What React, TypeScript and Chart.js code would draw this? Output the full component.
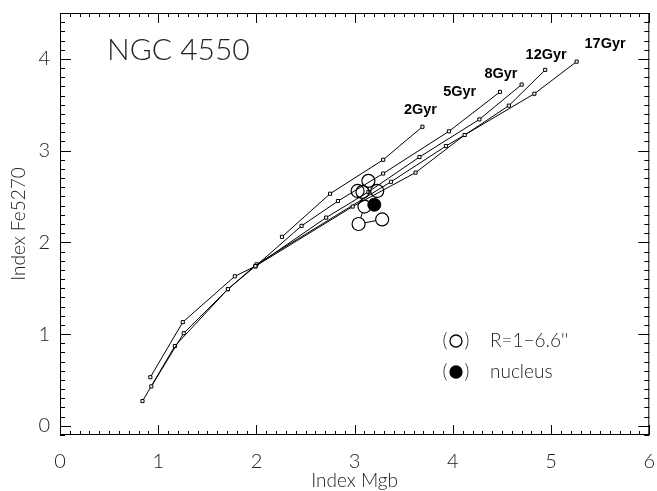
import React, { useEffect, useRef } from "react";
import { Chart, registerables } from "chart.js";

Chart.register(...registerables);

// ---- data ----
const ageLabels = ["2Gyr", "5Gyr", "8Gyr", "12Gyr", "17Gyr"];
const mgb2 = [2.26, 2.75, 3.29, 3.69];
const fe2 = [2.06, 2.53, 2.9, 3.26];
const mgb5 = [1.99, 2.46, 2.83, 3.29, 3.96, 4.48];
const fe5 = [1.74, 2.18, 2.45, 2.75, 3.21, 3.64];
const mgb8 = [0.92, 1.25, 1.78, 1.99, 2.71, 3.14, 3.66, 4.27, 4.7];
const fe8 = [0.53, 1.13, 1.63, 1.74, 2.27, 2.55, 2.93, 3.34, 3.72];
const mgb12 = [0.93, 1.26, 1.71, 1.99, 2.98, 3.62, 4.12, 4.57, 4.94];
const fe12 = [0.43, 1.01, 1.49, 1.74, 2.39, 2.76, 3.17, 3.49, 3.88];
const mgb17 = [0.84, 1.17, 1.71, 2.0, 3.37, 3.93, 4.83, 5.26];
const fe17 = [0.27, 0.87, 1.49, 1.76, 2.66, 3.05, 3.62, 3.97];
// age label anchor (data units)
const ageLabelX = [3.67, 4.07, 4.49, 4.95, 5.55];
const ageLabelY = [3.44, 3.64, 3.84, 4.04, 4.16];

// nucleus
const nucMgb = [3.2];
const nucFe = [2.41];
// observed radial profile (R = 1-6.6"), inner to outer
const obsMgb = [3.23, 3.14, 3.08, 3.03, 3.1, 3.04, 3.28];
const obsFe = [2.56, 2.67, 2.55, 2.56, 2.39, 2.2, 2.25];

const xTickLabels = ["0", "1", "2", "3", "4", "5", "6"];
const yTickLabels = ["0", "1", "2", "3", "4"];

const title = "NGC 4550";
const legendLabels = ["R=1\u22126.6''", "nucleus"];

const thinFont = "Lato, 'DejaVu Sans', sans-serif";

const pts = (xs: number[], ys: number[]) => xs.map((x, i) => ({ x, y: ys[i] }));

const framePlugin = {
  id: "frame",
  afterDatasetsDraw(chart: any) {
    const { ctx, chartArea: a, scales } = chart;
    const xs = scales.x;
    const ys = scales.y;
    ctx.save();
    ctx.strokeStyle = "#000";
    ctx.lineWidth = 1;
    ctx.strokeRect(a.left + 0.5, a.top + 0.5, a.right - a.left - 1, a.bottom - a.top - 1);
    ctx.beginPath();
    for (let i = 0; i <= 60; i++) {
      const v = i / 10;
      const px = Math.round(xs.getPixelForValue(v)) + 0.5;
      const len = i % 10 === 0 ? 10 : 4;
      ctx.moveTo(px, a.bottom);
      ctx.lineTo(px, a.bottom - len);
      ctx.moveTo(px, a.top);
      ctx.lineTo(px, a.top + len);
    }
    for (let i = -1; i <= 45; i++) {
      const v = i / 10;
      const py = Math.round(ys.getPixelForValue(v)) + 0.5;
      const len = i % 10 === 0 ? 11 : 5;
      ctx.moveTo(a.left, py);
      ctx.lineTo(a.left + len, py);
      ctx.moveTo(a.right, py);
      ctx.lineTo(a.right - len, py);
    }
    ctx.stroke();

    // title
    ctx.fillStyle = "#222";
    ctx.font = `300 30px ${thinFont}`;
    ctx.textBaseline = "middle";
    ctx.textAlign = "left";
    ctx.fillText(title, 107, 50);

    // age labels
    ctx.font = "bold 14.5px 'Liberation Sans', Arial, sans-serif";
    ctx.fillStyle = "#000";
    ctx.textAlign = "center";
    ageLabels.forEach((t, i) => {
      ctx.fillText(t, xs.getPixelForValue(ageLabelX[i]), ys.getPixelForValue(ageLabelY[i]));
    });

    // legend
    const lx = 456;
    const rows = [341, 372];
    ctx.font = `300 19px ${thinFont}`;
    ctx.fillStyle = "#222";
    rows.forEach((ry, i) => {
      ctx.textAlign = "center";
      ctx.fillText("(", lx - 11, ry);
      ctx.fillText(")", lx + 11, ry);
      ctx.beginPath();
      ctx.arc(lx, ry, 6, 0, Math.PI * 2);
      ctx.lineWidth = 1.3;
      ctx.strokeStyle = "#000";
      if (i === 1) {
        ctx.fillStyle = "#000";
        ctx.fill();
        ctx.fillStyle = "#222";
      }
      ctx.stroke();
      ctx.textAlign = "left";
      ctx.fillText(legendLabels[i], 490, ry);
    });
    ctx.restore();
  },
};

export default function App() {
  const ref = useRef<HTMLCanvasElement>(null);
  useEffect(() => {
    if (!ref.current) return;
    const modelStyle = {
      type: "line" as const,
      borderColor: "#000",
      borderWidth: 1,
      pointStyle: "rect" as const,
      pointRadius: 2.2,
      pointBorderWidth: 1,
      pointBorderColor: "#000",
      pointBackgroundColor: "#fff",
      showLine: true,
      fill: false,
    };
    const profile = [...pts(nucMgb, nucFe), ...pts(obsMgb, obsFe)];
    const chart = new Chart(ref.current, {
      type: "scatter",
      data: {
        datasets: [
          {
            label: "nucleus",
            data: pts(nucMgb, nucFe),
            pointRadius: 6.5,
            pointBackgroundColor: "#000",
            pointBorderColor: "#000",
            pointBorderWidth: 1,
          },
          {
            label: "R=1-6.6 outline",
            data: pts(obsMgb, obsFe),
            pointRadius: 6.5,
            pointBackgroundColor: "rgba(0,0,0,0)",
            pointBorderColor: "#000",
            pointBorderWidth: 1.2,
          },
          { ...modelStyle, label: ageLabels[0], data: pts(mgb2, fe2) },
          { ...modelStyle, label: ageLabels[1], data: pts(mgb5, fe5) },
          { ...modelStyle, label: ageLabels[2], data: pts(mgb8, fe8) },
          { ...modelStyle, label: ageLabels[3], data: pts(mgb12, fe12) },
          { ...modelStyle, label: ageLabels[4], data: pts(mgb17, fe17) },
          {
            label: "R=1-6.6 fill",
            data: pts(obsMgb, obsFe),
            pointRadius: 6.5,
            pointBackgroundColor: "#fff",
            pointBorderColor: "rgba(0,0,0,0)",
            pointBorderWidth: 0,
          },
          {
            label: "profile",
            type: "line",
            data: profile,
            showLine: true,
            borderColor: "#000",
            borderWidth: 1,
            pointRadius: 0,
            fill: false,
          },
        ] as any,
      },
      options: {
        animation: false,
        responsive: false,
        maintainAspectRatio: false,
        layout: { padding: { top: 13, right: 3, left: 0, bottom: 0 } },
        plugins: { legend: { display: false }, tooltip: { enabled: false } },
        scales: {
          x: {
            type: "linear",
            min: 0,
            max: 6,
            grid: { display: false, drawTicks: false },
            border: { display: false },
            ticks: {
              stepSize: 1,
              includeBounds: false,
              padding: 15,
              color: "#222",
              font: { family: thinFont, size: 20, weight: "300" as any },
              callback: (v: any) => xTickLabels[Math.round(Number(v))] ?? "",
              maxRotation: 0,
              autoSkip: false,
            },
            title: {
              display: true,
              text: "Index Mgb",
              color: "#222",
              font: { family: thinFont, size: 19, weight: "300" as any },
              padding: { top: 0, bottom: -1 },
            },
            afterFit: (s: any) => {
              s.height = 56;
              s.paddingLeft = 0;
              s.paddingRight = 0;
            },
          },
          y: {
            type: "linear",
            min: -0.1,
            max: 4.5,
            grid: { display: false, drawTicks: false },
            border: { display: false },
            ticks: {
              stepSize: 1,
              includeBounds: false,
              padding: 10,
              color: "#222",
              font: { family: thinFont, size: 20, weight: "300" as any },
              callback: (v: any) => yTickLabels[Math.round(Number(v))] ?? "",
              autoSkip: false,
            },
            title: {
              display: true,
              text: "Index Fe5270",
              color: "#222",
              font: { family: thinFont, size: 19, weight: "300" as any },
              padding: { top: 7, bottom: 0 },
            },
            afterFit: (s: any) => {
              s.width = 60;
              s.paddingTop = 0;
              s.paddingBottom = 0;
            },
          },
        },
      },
      plugins: [framePlugin],
    });
    return () => chart.destroy();
  }, []);
  return (
    <div style={{ position: "absolute", left: 0, top: 0, width: 657, height: 491, background: "#fff" }}>
      <canvas ref={ref} width={657} height={491} style={{ display: "block" }} />
    </div>
  );
}
